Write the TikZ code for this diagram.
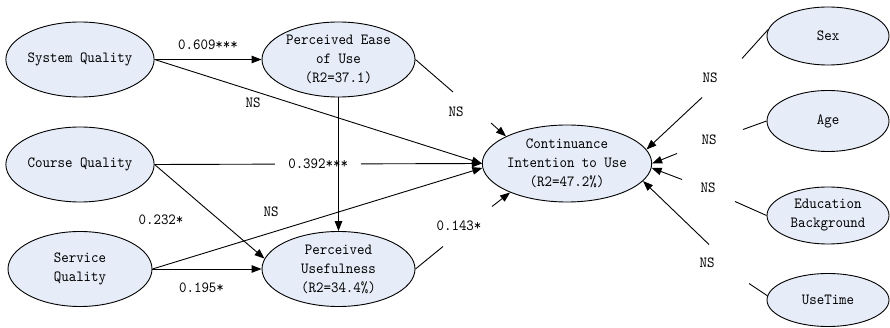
\documentclass[tikz,border=0pt]{standalone}
\usepackage{fontspec}
\newfontfamily\labfont[FakeStretch=0.92]{lmmono10-regular.otf}
\usetikzlibrary{arrows.meta,shapes.geometric}
\definecolor{ellfill}{RGB}{230,236,248}
\begin{document}
\begin{tikzpicture}[x=1pt,y=-1pt,
  font=\labfont\fontsize{15.5}{19}\selectfont,
  construct/.style={ellipse,draw=black,line width=0.9pt,fill=ellfill,inner sep=0pt,align=center},
  conn/.style={line width=0.9pt},
  arr/.style={line width=0.9pt,-{Triangle[length=10pt,width=7.5pt]}},
  lab/.style={inner sep=1pt}]
\useasboundingbox (0,0) rectangle (890,328);
% constructs
\node[construct,minimum width=144pt,minimum height=75pt] (sysq) at (80,59.5) {System Quality};
\node[construct,minimum width=144pt,minimum height=75pt] (courq) at (80,164.5) {Course Quality};
\node[construct,minimum width=144pt,minimum height=75pt] (servq) at (80,269) {Service\\Quality};
\node[construct,minimum width=153pt,minimum height=75pt] (peou) at (338.5,59.5) {Perceived Ease\\of Use\\(R2=37.1)};
\node[construct,minimum width=153pt,minimum height=75pt] (pu) at (338.5,269) {Perceived\\Usefulness\\(R2=34.4\%)};
\node[construct,minimum width=163pt,minimum height=77pt] (ci) at (567,163.5) {Continuance\\Intention to Use\\(R2=47.2\%)};
\node[construct,minimum width=122pt,minimum height=58pt] (sex) at (828,36) {Sex};
\node[construct,minimum width=122pt,minimum height=61pt] (age) at (828,121) {Age};
\node[construct,minimum width=122pt,minimum height=57pt] (edu) at (828,215.5) {Education\\Background};
\node[construct,minimum width=122pt,minimum height=53pt] (ut) at (828,300) {UseTime};
% gap coordinates
\coordinate (pa) at (453,92);   \coordinate (pb) at (491,123);
\coordinate (qa) at (443,246.5); \coordinate (qb) at (492,206.5);
\coordinate (sa) at (742,58.5); \coordinate (sb) at (702,97.5);
\coordinate (aa) at (743,129.5); \coordinate (ab) at (677,153.5);
\coordinate (ea) at (735,201.5); \coordinate (eb) at (682,179.5);
\coordinate (ua) at (749,283.5); \coordinate (ub) at (709,244.5);
% connectors
\draw[arr] (sysq.east) -- (peou.west);
\draw[arr] (sysq.east) -- (ci.west);
\draw[arr] (courq.east) -- node[lab,fill=white,inner xsep=13pt] {0.392***} (ci.west);
\draw[arr] (servq.east) -- (ci.183);
\draw[arr] (peou.south) -- (pu.north);
\draw[arr] (courq.east) -- (pu.172);
\draw[arr] (servq.east) -- (pu.west);
\draw[conn] (peou.east) -- (pa);
\draw[arr] (pb) -- (ci.156);
\draw[conn] (pu.east) -- (qa);
\draw[arr] (qb) -- (ci.207);
\draw[conn] (sex.174) -- (sa);
\draw[arr] (sb) -- (ci.10);
\draw[conn] (age.west) -- (aa);
\draw[arr] (ab) -- (ci.east);
\draw[conn] (edu.west) -- (ea);
\draw[arr] (eb) -- (ci.-3);
\draw[conn] (ut.176) -- (ua);
\draw[arr] (ub) -- (ci.-13);
% labels
\node[lab] (l1) at (208,45) {0.609***};
\node[lab] (l2) at (253,103) {NS};
\node[lab] (l3) at (161,220) {0.232*};
\node[lab] (l4) at (271,212) {NS};
\node[lab] (l5) at (201.5,288) {0.195*};
\node[lab] (l6) at (456,112) {NS};
\node[lab] (l7) at (459,226) {0.143*};
\node[lab] (l8) at (710,78) {NS};
\node[lab] (l9) at (709,140) {NS};
\node[lab] (l10) at (708,188) {NS};
\node[lab] (l11) at (707,263) {NS};
\end{tikzpicture}
\end{document}
